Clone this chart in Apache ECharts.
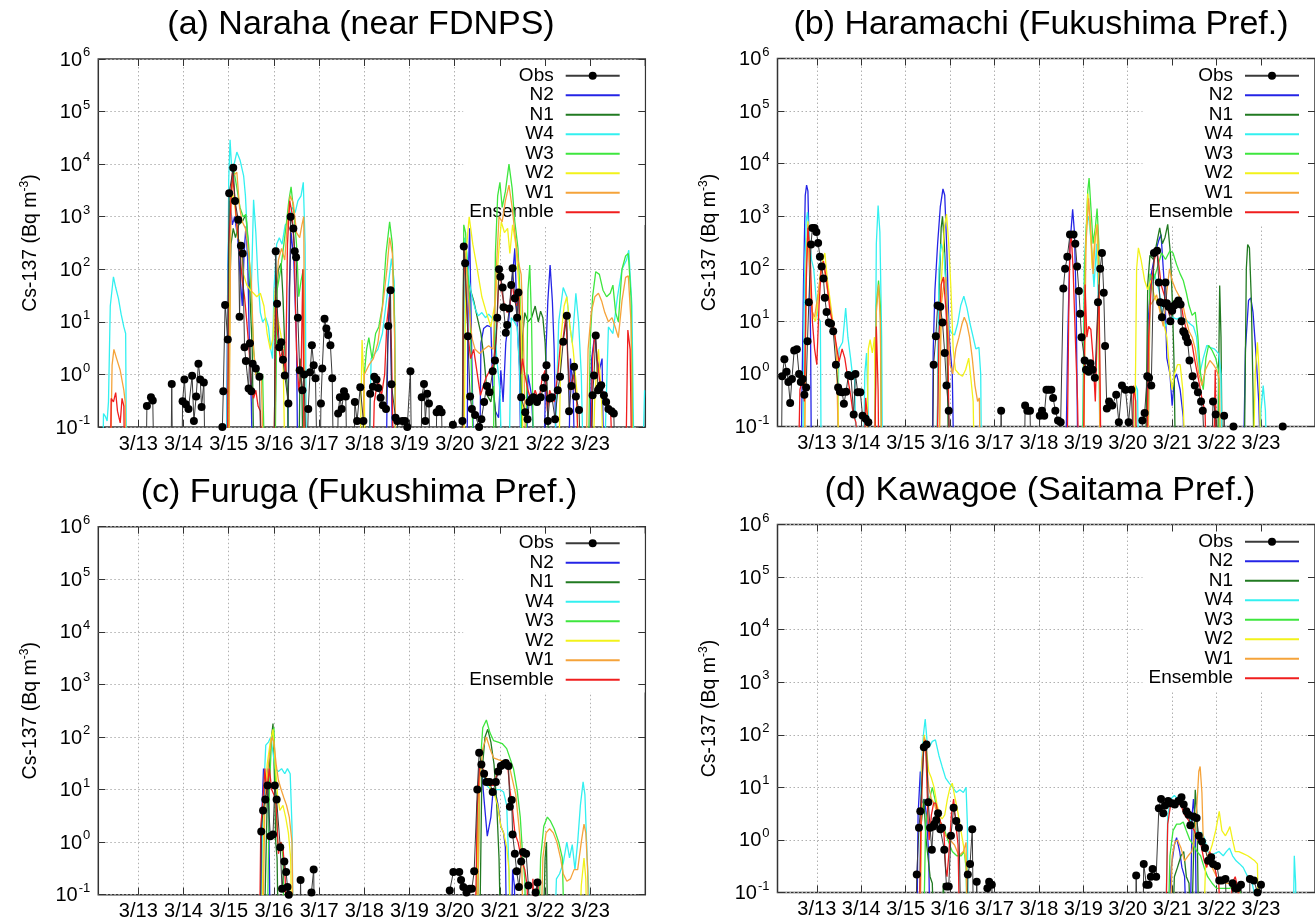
<!DOCTYPE html>
<html><head><meta charset="utf-8">
<script src="https://cdn.jsdelivr.net/npm/echarts@6/dist/echarts.min.js"></script>
<style>html,body{margin:0;padding:0;background:#fff}#c{width:1315px;height:923px}</style>
</head><body><div id="c"></div>
<script>
// ---------- tick labels / names ----------
const xTicks = [13,14,15,16,17,18,19,20,21,22,23];
const xTickLabels = ['3/13','3/14','3/15','3/16','3/17','3/18','3/19','3/20','3/21','3/22','3/23'];
const seriesNames = ['Obs','N2','N1','W4','W3','W2','W1','Ensemble'];
const panelTitles = ['(a) Naraha (near FDNPS)','(b) Haramachi (Fukushima Pref.)','(c) Furuga (Fukushima Pref.)','(d) Kawagoe (Saitama Pref.)'];

// ---------- (a) Naraha ----------
const a_obs = [[13.17,0.01],[13.19,0.25],[13.28,0.37],[13.32,0.32],[13.35,0.01],[13.72,0.01],[13.74,0.66],[13.76,0.01],
[13.96,0.01],[13.98,0.31],[14.02,0.8],[14.05,0.27],[14.11,0.22],[14.19,0.94],[14.23,0.13],[14.28,0.38],[14.33,1.6],[14.37,0.8],[14.40,0.24],[14.45,0.7],[14.48,0.01],
[14.86,0.1],[14.88,0.48],[14.92,21],[14.98,4.6],[15.01,2800],[15.10,8500],[15.14,2000],[15.21,880],[15.24,12.5],[15.27,280],[15.31,200],[15.35,3.3],[15.38,1.8],[15.44,0.54],[15.47,3.9],[15.5,0.48],[15.53,1.6],[15.6,1.3],[15.68,0.9],[15.72,0.01],
[16.0,0.01],[16.04,220],[16.07,22],[16.12,3.3],[16.16,4.1],[16.2,1.9],[16.24,0.95],[16.32,0.28],[16.37,1000],[16.43,600],[16.46,220],[16.49,170],[16.53,12],[16.57,1.2],[16.63,0.5],[16.67,1.0],[16.72,0.01],
[16.74,0.01],[16.76,0.22],[16.8,1.1],[16.84,3.6],[16.88,1.5],[16.92,0.85],[16.96,0.01],
[17.02,0.01],[17.04,0.28],[17.07,1.3],[17.12,11.5],[17.16,7.5],[17.2,5.6],[17.25,3.6],[17.29,0.85],[17.32,0.01],
[17.40,0.01],[17.42,0.18],[17.46,0.37],[17.5,0.22],[17.55,0.48],[17.59,0.38],[17.62,0.01],
[17.77,0.01],[17.79,0.3],[17.84,0.13],[17.91,0.57],[17.98,0.13],[18.0,0.01],
[18.11,0.01],[18.13,0.43],[18.19,0.58],[18.22,0.9],[18.27,0.8],[18.31,0.55],[18.36,0.36],[18.41,0.26],[18.48,0.22],[18.53,8.3],[18.58,40],[18.6,0.65],[18.69,0.15],[18.73,0.13],[18.8,0.01],
[18.82,0.01],[18.84,0.13],[18.9,0.13],[18.95,0.1],[19.02,1.15],[19.05,0.01],
[19.25,0.01],[19.27,0.37],[19.32,0.66],[19.35,0.13],[19.39,0.43],[19.43,0.28],[19.46,0.01],
[19.58,0.01],[19.6,0.19],[19.66,0.22],[19.71,0.19],[19.74,0.01],
[19.94,0.01],[19.96,0.11],[19.98,0.01],[20.15,0.01],[20.17,0.13],[20.2,270],[20.23,130],[20.29,5.3],[20.34,0.38],[20.38,0.22],[20.45,0.17],[20.54,0.1],[20.59,0.14],[20.65,0.3],[20.71,0.6],[20.77,0.46],[20.84,1.15],[20.89,1.85],[20.94,12],[20.98,100],[21.01,72],[21.06,45],[21.08,19],[21.13,6.2],[21.16,8.7],[21.21,18],[21.25,50],[21.28,105],[21.33,28],[21.38,12],[21.41,36],[21.47,0.37],[21.56,0.19],[21.61,0.14],[21.65,0.3],[21.7,0.34],[21.74,0.37],[21.82,0.3],[21.9,0.37],[21.96,0.55],[22.0,0.87],[22.03,1.5],[22.06,0.13],[22.1,0.35],[22.15,0.37],[22.22,0.14],[22.28,0.5],[22.33,0.9],[22.4,4.2],[22.48,13],[22.53,0.2],[22.58,0.6],[22.64,1.4],[22.68,0.38],[22.75,0.21],[22.8,0.01],
[23.02,0.01],[23.05,0.4],[23.08,0.95],[23.12,5.5],[23.17,0.5],[23.2,0.55],[23.24,0.62],[23.3,0.4],[23.35,0.3],[23.4,0.22],[23.47,0.2],[23.52,0.18],[23.55,0.01]];
const a_n2 = [[14.95,0.01],[14.98,120],[15.03,2000],[15.08,700],[15.13,1000],[15.2,400],[15.26,60],[15.3,20],[15.34,200],[15.38,650],[15.42,150],[15.46,3],[15.5,0.3],[15.53,0.01],
[16.3,0.01],[16.34,40],[16.38,500],[16.44,150],[16.5,4],[16.53,0.01],
[18.48,0.01],[18.52,4],[18.56,35],[18.6,1],[18.63,0.01],
[20.27,0.01],[20.3,80],[20.33,600],[20.37,5],[20.4,0.2],[20.43,0.01],[20.55,0.01],[20.58,4],[20.64,7.5],[20.72,8.5],[20.8,8],[20.84,0.6],[20.9,0.2],[20.97,0.15],[21.02,1.2],[21.07,0.3],[21.13,4],[21.2,12],[21.27,60],[21.33,250],[21.38,10],[21.43,1.5],[21.47,0.01],
[21.58,0.01],[21.62,1],[21.7,0.4],[21.78,0.01],[21.97,0.01],[22.02,3],[22.06,25],[22.11,120],[22.16,25],[22.2,3],[22.25,0.01],[22.52,0.01],[22.56,2],[22.62,0.5],[22.66,0.01],[22.97,0.01],[23.03,2],[23.1,6],[23.15,2],[23.2,1.2],[23.26,2],[23.3,0.01]];
const a_n1 = [[14.96,0.01],[15.0,5],[15.05,300],[15.1,600],[15.15,400],[15.22,700],[15.3,800],[15.38,1100],[15.43,300],[15.48,20],[15.52,3],[15.56,0.01],
[16.02,0.01],[16.05,30],[16.1,100],[16.16,130],[16.2,30],[16.25,2],[16.3,0.5],[16.33,0.01],[16.55,0.01],[16.58,2],[16.62,0.5],[16.65,0.01],
[20.16,0.01],[20.2,250],[20.25,150],[20.3,60],[20.35,40],[20.42,25],[20.5,12],[20.58,6],[20.65,2],[20.72,0.4],[20.8,0.3],[20.85,0.6],[20.9,0.2],[20.95,0.01],
[21.45,0.01],[21.5,5],[21.55,15],[21.62,10],[21.7,12],[21.78,20],[21.85,10],[21.9,16],[21.95,12],[22.0,4],[22.05,0.3],[22.1,0.01]];
const a_w4 = [[12.21,0.01],[12.23,0.18],[12.27,0.16],[12.31,0.13],[12.34,0.3],[12.38,20],[12.45,72],[12.5,45],[12.56,28],[12.62,14],[12.68,8],[12.72,6],[12.74,0.01],
[14.95,0.01],[15.0,5000],[15.03,29000],[15.07,7000],[15.12,10000],[15.18,17000],[15.25,12000],[15.33,6000],[15.37,2500],[15.41,500],[15.45,100],[15.5,40],[15.55,2100],[15.6,500],[15.65,60],[15.7,15],[15.75,10],[15.82,12],[15.88,8],[15.93,3],[15.97,2],[16.0,40],[16.06,300],[16.12,400],[16.18,300],[16.25,700],[16.32,800],[16.4,1500],[16.47,1200],[16.53,2000],[16.6,2500],[16.65,4500],[16.69,300],[16.72,0.01],
[18.1,0.01],[18.15,2],[18.3,3],[18.4,6],[18.5,30],[18.6,160],[18.66,60],[18.7,0.01],
[20.18,0.01],[20.22,400],[20.27,200],[20.32,60],[20.38,30],[20.45,18],[20.52,13],[20.6,15],[20.68,12],[20.75,14],[20.82,12],[20.88,10],[20.93,2],[21.0,0.5],[21.05,0.01],[21.2,0.01],[21.25,12],[21.32,10],[21.38,8],[21.44,1],[21.48,0.01],
[22.2,0.01],[22.3,10],[22.4,45],[22.48,30],[22.55,8],[22.6,4],[22.68,35],[22.74,10],[22.8,1],[22.85,0.01],[23.3,0.01],[23.4,8],[23.5,6],[23.6,30],[23.7,100],[23.8,150],[23.85,230],[23.92,20],[23.97,0.01],[24.15,0.01],[24.2,0.5]];
const a_w3 = [[15.0,0.01],[15.03,2000],[15.07,5000],[15.11,8000],[15.17,4000],[15.25,1500],[15.32,1000],[15.38,1100],[15.44,300],[15.5,30],[15.55,3],[15.6,1.0],[15.65,1.2],[15.7,0.9],[15.75,1.0],[15.8,0.01],
[16.02,0.01],[16.07,40],[16.15,100],[16.22,300],[16.28,800],[16.33,2000],[16.38,3700],[16.45,1000],[16.5,300],[16.55,30],[16.6,60],[16.65,100],[16.68,0.01],
[17.95,0.01],[18.0,1],[18.05,3],[18.1,5],[18.17,2],[18.25,6],[18.32,8],[18.4,20],[18.48,200],[18.56,800],[18.62,300],[18.67,10],[18.7,0.01],
[20.17,0.01],[20.2,700],[20.24,500],[20.28,100],[20.33,30],[20.38,0.5],[20.42,0.01],
[20.85,0.01],[20.9,200],[20.95,2500],[21.0,4500],[21.05,1500],[21.12,3000],[21.2,10000],[21.27,3500],[21.33,800],[21.4,250],[21.46,15],[21.5,0.01],[21.57,0.01],[21.62,40],[21.66,120],[21.7,10],[21.75,0.01],
[22.95,0.01],[23.0,5],[23.05,30],[23.12,90],[23.2,80],[23.28,40],[23.36,30],[23.44,35],[23.5,50],[23.56,15],[23.62,10],[23.7,100],[23.78,180],[23.84,200],[23.9,30],[23.95,0.01]];
const a_w2 = [[15.0,0.01],[15.04,1500],[15.08,3000],[15.14,1500],[15.2,400],[15.27,300],[15.33,80],[15.4,50],[15.48,40],[15.55,35],[15.62,30],[15.7,35],[15.78,20],[15.85,6],[15.92,3],[15.98,5],[16.03,45],[16.08,12],[16.15,6],[16.2,3],[16.25,0.01],
[17.9,0.01],[17.95,4.5],[18.0,0.5],[18.02,0.01],
[20.2,0.01],[20.25,200],[20.32,1000],[20.4,300],[20.5,100],[20.6,30],[20.7,15],[20.8,8],[20.9,25],[20.97,200],[21.03,800],[21.1,500],[21.17,600],[21.22,200],[21.28,700],[21.35,300],[21.42,50],[21.48,5],[21.52,0.01],
[22.3,0.01],[22.35,5],[22.42,20],[22.48,30],[22.55,8],[22.62,3],[22.7,0.5],[22.75,0.01],[23.05,0.01],[23.1,0.4],[23.18,3],[23.25,0.3],[23.3,0.01]];
const a_w1 = [[12.38,0.01],[12.42,1.5],[12.46,3],[12.52,2],[12.6,1.2],[12.68,0.5],[12.71,0.3],[12.73,0.01],
[15.0,0.01],[15.05,2000],[15.1,6000],[15.18,7000],[15.24,1500],[15.3,800],[15.37,600],[15.44,200],[15.5,60],[15.55,3],[15.6,1],[15.66,0.8],[15.72,0.9],[15.78,0.01],
[16.0,0.01],[16.04,30],[16.1,150],[16.17,250],[16.24,150],[16.3,800],[16.36,2500],[16.43,1800],[16.5,500],[16.57,400],[16.62,700],[16.66,1000],[16.69,0.01],
[17.95,0.01],[18.0,1],[18.1,1.5],[18.2,2],[18.3,4],[18.42,25],[18.5,100],[18.56,400],[18.62,200],[18.67,5],[18.7,0.01],
[20.17,0.01],[20.2,300],[20.25,150],[20.3,30],[20.38,5],[20.45,3],[20.55,2.5],[20.65,3],[20.75,3.5],[20.85,3],[20.92,100],[20.98,1000],[21.05,800],[21.12,2000],[21.2,4000],[21.27,1500],[21.33,500],[21.4,150],[21.47,80],[21.52,5],[21.58,0.01],
[22.9,0.01],[22.95,3],[23.02,15],[23.1,30],[23.18,35],[23.25,25],[23.32,15],[23.4,10],[23.48,12],[23.55,8],[23.62,5],[23.7,25],[23.78,70],[23.84,75],[23.9,10],[23.94,0.01]];
const a_ens = [[12.38,0.01],[12.4,0.35],[12.45,0.3],[12.5,0.45],[12.54,0.2],[12.6,0.12],[12.64,0.35],[12.68,0.25],[12.7,0.01],
[14.97,0.01],[15.0,300],[15.05,2000],[15.08,7000],[15.13,2500],[15.18,700],[15.25,200],[15.3,60],[15.35,30],[15.4,10],[15.45,3],[15.5,0.6],[15.55,0.35],[15.6,0.5],[15.65,0.25],[15.7,0.2],[15.74,0.01],
[16.0,0.01],[16.04,30],[16.08,6],[16.14,2],[16.2,3],[16.26,1],[16.3,300],[16.35,2000],[16.4,1200],[16.45,250],[16.5,3],[16.55,0.5],[16.6,1],[16.64,100],[16.67,0.01],
[18.18,0.01],[18.22,0.3],[18.3,0.8],[18.38,0.4],[18.45,1],[18.5,10],[18.56,30],[18.6,3],[18.65,0.01],
[20.17,0.01],[20.2,250],[20.24,60],[20.3,5],[20.35,2],[20.42,3],[20.5,1],[20.57,0.4],[20.63,0.6],[20.7,0.9],[20.78,1.2],[20.85,1.5],[20.92,5],[20.97,60],[21.0,100],[21.05,35],[21.1,20],[21.16,15],[21.22,20],[21.27,60],[21.32,25],[21.38,20],[21.42,40],[21.46,1],[21.5,2],[21.55,1],[21.62,0.5],[21.7,0.3],[21.78,0.5],[21.86,0.3],[21.93,0.8],[22.0,1.2],[22.05,0.2],[22.1,0.5],[22.2,0.3],[22.28,1],[22.34,4],[22.4,5],[22.46,13],[22.5,2],[22.55,0.5],[22.62,1],[22.7,0.3],[22.75,0.01],
[23.0,0.01],[23.05,2],[23.1,6],[23.15,2],[23.22,0.6],[23.3,0.4],[23.38,0.3],[23.45,0.2],[23.5,0.01],[23.78,0.01],[23.83,7],[23.88,3],[23.92,0.01]];

// ---------- (b) Haramachi ----------
const b_obs = [[12.2,0.01],[12.22,0.9],[12.27,1.9],[12.32,1.1],[12.36,0.7],[12.4,0.28],[12.44,0.8],[12.49,2.8],[12.55,2.95],[12.6,1.0],[12.64,0.7],[12.68,0.8],[12.72,0.4],[12.76,0.55],[12.79,4.2],[12.82,23],[12.87,290],[12.9,600],[12.95,600],[12.99,500],[13.03,310],[13.07,170],[13.11,110],[13.15,65],[13.18,28],[13.22,15],[13.27,9.5],[13.32,9],[13.37,6.5],[13.43,1.5],[13.48,0.55],[13.52,0.46],[13.57,0.45],[13.61,0.27],[13.66,0.46],[13.71,0.95],[13.77,0.9],[13.83,0.17],[13.87,1.0],[13.92,0.45],[13.98,0.45],[14.03,0.16],[14.1,0.14],[14.16,0.12],[14.2,0.01],
[15.6,0.01],[15.63,1.5],[15.68,5.2],[15.72,20],[15.78,19],[15.83,9.5],[15.88,2.5],[15.92,0.6],[15.97,0.2],[16.0,0.01],
[17.13,0.01],[17.15,0.2],[17.17,0.01],[17.67,0.01],[17.69,0.25],[17.74,0.2],[17.8,0.2],[17.83,0.01],
[17.98,0.01],[18.02,0.16],[18.07,0.2],[18.12,0.16],[18.17,0.5],[18.22,0.5],[18.28,0.5],[18.32,0.35],[18.37,0.2],[18.43,0.13],[18.49,0.12],[18.55,42],[18.59,100],[18.64,170],[18.7,450],[18.78,450],[18.82,300],[18.86,110],[18.9,38],[18.93,14],[18.96,5],[19.03,1.8],[19.06,1.2],[19.12,1.1],[19.16,1.6],[19.21,1.2],[19.26,0.85],[19.33,23],[19.38,100],[19.42,200],[19.46,35],[19.49,3.4],[19.53,0.22],[19.58,0.3],[19.65,0.25],[19.74,0.4],[19.8,0.12],[19.87,0.6],[19.95,0.5],[20.02,0.12],[20.08,0.5],[20.15,0.01],
[20.3,0.01],[20.33,0.13],[20.38,0.18],[20.44,0.9],[20.48,0.85],[20.53,0.6],[20.59,200],[20.66,220],[20.7,55],[20.73,23],[20.77,12],[20.82,22],[20.85,55],[20.88,22],[20.92,19],[20.96,10],[21.0,16],[21.05,20],[21.1,22],[21.14,25],[21.19,21],[21.21,10],[21.25,6.5],[21.28,6],[21.31,5],[21.35,4],[21.39,1.8],[21.46,0.9],[21.51,0.6],[21.58,0.45],[21.65,0.3],[21.69,0.2],[21.75,0.01],
[21.88,0.01],[21.92,0.3],[21.98,0.17],[22.01,0.01],[22.15,0.01],[22.17,0.16],[22.2,0.01],[22.36,0.01],[22.38,0.1],[22.4,0.01],[23.47,0.01],[23.49,0.1],[23.51,0.01]];
const b_n2 = [[12.64,0.01],[12.7,50],[12.74,2500],[12.77,3900],[12.8,3000],[12.83,200],[12.86,5],[12.88,0.01],
[15.6,0.01],[15.62,2.7],[15.66,40],[15.72,300],[15.78,1500],[15.84,3300],[15.88,2500],[15.93,200],[15.98,5],[16.05,1],[16.09,0.01],
[18.6,0.01],[18.65,5],[18.7,300],[18.76,1350],[18.8,500],[18.84,20],[18.88,0.01],
[20.42,0.01],[20.46,10],[20.53,80],[20.62,200],[20.7,350],[20.75,450],[20.8,100],[20.84,30],[20.88,2],[20.95,1],[21.0,0.25],[21.05,0.8],[21.1,1],[21.18,0.5],[21.25,0.15],[21.28,0.01],
[22.6,0.01],[22.65,3],[22.72,25],[22.77,28],[22.82,15],[22.88,3],[22.95,0.3],[23.0,0.01]];
const b_n1 = [[15.7,0.01],[15.75,30],[15.8,600],[15.83,1000],[15.87,300],[15.92,30],[15.97,0.01],
[20.4,0.01],[20.45,50],[20.5,180],[20.58,150],[20.65,300],[20.72,600],[20.78,300],[20.84,400],[20.9,700],[20.96,200],[21.0,30],[21.04,2],[21.08,0.01],
[22.02,0.01],[22.07,48],[22.1,5],[22.13,0.01],
[22.62,0.01],[22.67,100],[22.7,290],[22.74,250],[22.78,30],[22.82,0.5],[22.85,0.01]];
const b_w4 = [[12.68,0.01],[12.72,50],[12.76,800],[12.79,1200],[12.83,400],[12.88,150],[12.93,100],[12.98,30],[13.03,12],[13.08,10],[13.1,0.01],
[13.45,0.01],[13.5,3],[13.58,4],[13.65,18],[13.7,5],[13.76,2],[13.8,1],[13.85,0.8],[13.9,0.01],
[14.05,0.01],[14.08,1],[14.12,2.5],[14.15,0.3],[14.2,0.01],[14.3,0.01],[14.34,300],[14.38,1600],[14.42,500],[14.46,5],[14.48,0.01],
[15.7,0.01],[15.75,100],[15.8,300],[15.86,200],[15.92,30],[15.97,8],[16.03,6],[16.1,5.5],[16.17,9],[16.24,20],[16.31,30],[16.38,18],[16.45,9],[16.52,5],[16.58,3],[16.65,3.2],[16.69,1],[16.71,0.01],
[18.98,0.01],[19.02,100],[19.07,700],[19.12,1000],[19.18,300],[19.24,45],[19.3,300],[19.34,20],[19.38,0.01],
[20.15,0.01],[20.18,0.6],[20.22,0.5],[20.25,0.01],
[20.45,0.01],[20.5,30],[20.6,80],[20.7,40],[20.78,15],[20.85,8],[20.92,10],[21.0,12],[21.1,11],[21.2,12],[21.3,11],[21.4,9],[21.48,8],[21.55,5],[21.62,1],[21.7,2],[21.78,3.5],[21.85,3.2],[21.95,3],[22.05,2.4],[22.1,1],[22.12,0.01],
[22.95,0.01],[23.0,0.2],[23.05,0.6],[23.1,0.2],[23.13,0.01]];
const b_w3 = [[14.3,0.01],[14.34,20],[14.39,60],[14.43,20],[14.46,0.01],
[18.98,0.01],[19.03,100],[19.1,3000],[19.13,5300],[19.17,1500],[19.22,300],[19.27,600],[19.31,1400],[19.35,300],[19.38,0.01],
[20.45,0.01],[20.5,80],[20.58,60],[20.66,100],[20.76,200],[20.85,150],[20.95,220],[21.02,200],[21.1,120],[21.18,80],[21.25,60],[21.32,35],[21.38,20],[21.45,13],[21.52,15],[21.58,5],[21.64,1],[21.7,0.5],[21.76,2],[21.82,3.5],[21.9,2.8],[21.98,2],[22.04,1.2],[22.08,0.01]];
const b_w2 = [[12.72,0.01],[12.76,100],[12.8,800],[12.84,100],[12.88,20],[12.92,12],[12.97,10],[13.02,20],[13.08,80],[13.14,150],[13.18,200],[13.24,60],[13.3,25],[13.36,10],[13.42,4],[13.47,1.5],[13.5,0.01],
[14.12,0.01],[14.16,3],[14.2,4.5],[14.25,2.5],[14.3,5],[14.33,0.01],
[15.75,0.01],[15.8,50],[15.87,600],[15.92,1100],[15.97,300],[16.02,40],[16.07,3],[16.12,1.2],[16.2,1],[16.28,0.9],[16.35,1.2],[16.42,2],[16.47,0.8],[16.52,0.3],[16.55,0.01],
[19.0,0.01],[19.05,200],[19.1,2700],[19.15,800],[19.2,100],[19.25,300],[19.3,700],[19.34,100],[19.38,0.01],
[20.15,0.01],[20.2,100],[20.24,250],[20.3,150],[20.38,60],[20.45,40],[20.52,60],[20.6,30],[20.7,20],[20.8,10],[20.88,5],[20.95,1],[21.0,0.5],[21.05,1],[21.12,1.5],[21.18,1.5],[21.24,0.5],[21.3,0.01],
[22.82,0.01],[22.87,1],[22.92,4],[22.96,1],[23.0,0.01]];
const b_w1 = [[12.72,0.01],[12.76,100],[12.8,700],[12.85,60],[12.9,15],[12.95,12],[13.02,30],[13.1,100],[13.15,130],[13.22,50],[13.3,20],[13.37,8],[13.44,3],[13.5,0.01],
[14.3,0.01],[14.34,15],[14.39,50],[14.43,10],[14.46,0.01],
[15.75,0.01],[15.8,20],[15.86,50],[15.9,70],[15.95,10],[16.0,1.5],[16.06,1],[16.13,3],[16.2,5],[16.27,9],[16.32,12],[16.38,9],[16.44,5],[16.5,2],[16.56,0.6],[16.62,0.3],[16.66,0.35],[16.68,0.01],
[19.0,0.01],[19.06,300],[19.12,2200],[19.17,500],[19.22,80],[19.27,400],[19.32,700],[19.35,100],[19.38,0.01],
[20.45,0.01],[20.5,20],[20.58,25],[20.65,32],[20.72,16],[20.8,8],[20.87,30],[20.94,100],[21.0,60],[21.08,40],[21.16,30],[21.23,23],[21.3,12],[21.38,6.5],[21.45,5],[21.52,3],[21.6,1],[21.67,0.6],[21.75,1.2],[21.85,1.8],[21.93,1.5],[22.0,1.2],[22.06,0.8],[22.1,0.01]];
const b_ens = [[12.58,0.01],[12.62,0.5],[12.68,0.8],[12.72,0.3],[12.76,50],[12.8,600],[12.85,200],[12.9,10],[12.95,3],[13.0,1.5],[13.05,20],[13.1,100],[13.15,140],[13.22,60],[13.3,15],[13.37,8.5],[13.43,4],[13.5,1.7],[13.57,3],[13.63,2],[13.7,0.8],[13.76,0.4],[13.82,0.17],[13.88,0.12],[13.95,0.01],[14.05,0.01],[14.1,0.35],[14.15,0.12],[14.18,0.01],[14.3,0.01],[14.34,8],[14.38,0.5],[14.4,0.01],
[15.7,0.01],[15.75,5],[15.8,50],[15.85,70],[15.9,20],[15.95,4],[15.99,0.01],
[18.63,0.01],[18.67,10],[18.7,300],[18.73,400],[18.77,100],[18.82,5],[18.87,0.3],[18.9,0.01],[19.0,0.01],[19.04,50],[19.08,5],[19.12,8],[19.17,7],[19.22,2],[19.27,0.3],[19.31,5],[19.35,50],[19.38,0.5],[19.4,0.01],
[20.1,0.01],[20.13,0.6],[20.18,0.3],[20.2,0.01],
[20.42,0.01],[20.47,5],[20.53,50],[20.6,150],[20.66,230],[20.7,120],[20.75,50],[20.82,32],[20.88,20],[20.94,13],[21.0,15],[21.08,18],[21.15,20],[21.2,22],[21.25,12],[21.3,8],[21.38,5],[21.45,3.6],[21.5,2],[21.56,1.1],[21.62,0.6],[21.68,0.3],[21.74,0.2],[21.78,0.01],[21.93,0.01],[21.97,1.2],[22.0,0.01]];

// ---------- (c) Furuga ----------
const c_obs = [[15.7,0.01],[15.72,1.6],[15.76,4.0],[15.81,6.5],[15.86,12],[15.92,1.3],[15.98,1.4],[16.02,12],[16.06,6.5],[16.14,0.8],[16.18,0.13],[16.23,0.43],[16.27,0.27],[16.3,0.14],[16.33,0.1],[16.36,0.01],
[16.57,0.01],[16.59,0.19],[16.61,0.01],[16.8,0.01],[16.83,0.11],[16.88,0.3],[16.9,0.01],
[19.87,0.01],[19.89,0.12],[19.97,0.27],[20.1,0.27],[20.14,0.19],[20.19,0.14],[20.26,0.11],[20.33,0.13],[20.38,0.13],[20.43,0.28],[20.5,10],[20.54,50],[20.59,30],[20.65,20],[20.7,14],[20.77,14],[20.84,9],[20.91,14],[20.96,22],[21.02,28],[21.08,30],[21.13,32],[21.19,28],[21.22,4.7],[21.26,6.3],[21.28,1.4],[21.33,0.6],[21.37,0.28],[21.42,0.14],[21.47,0.43],[21.51,0.65],[21.58,0.6],[21.63,0.15],[21.7,0.01],[21.77,0.01],[21.79,0.11],[21.83,0.17],[21.86,0.01]];
const c_n2 = [[15.7,0.01],[15.74,5],[15.77,25],[15.8,5],[15.83,20],[15.86,25],[15.89,2],[15.92,0.01],
[20.47,0.01],[20.5,5],[20.55,30],[20.6,20],[20.66,5],[20.72,1.3],[20.76,1.2],[20.8,3],[20.85,10],[20.9,9],[20.96,5],[21.02,2],[21.08,1.5],[21.12,0.8],[21.15,0.01],[21.25,0.01],[21.28,0.3],[21.32,0.15],[21.35,0.01]];
const c_n1 = [[15.78,0.01],[15.85,5],[15.92,60],[15.98,180],[16.01,20],[16.04,1],[16.07,0.5],[16.1,0.01],
[20.55,0.01],[20.6,20],[20.67,100],[20.73,140],[20.8,80],[20.87,30],[20.93,5],[20.98,0.5],[21.02,0.01],
[21.95,0.01],[22.0,0.5],[22.03,1],[22.06,0.01]];
const c_w4 = [[15.72,0.01],[15.76,5],[15.82,70],[15.88,80],[15.93,100],[15.98,50],[16.03,25],[16.1,22],[16.17,25],[16.24,20],[16.3,25],[16.36,20],[16.4,2],[16.43,0.01],
[20.47,0.01],[20.52,10],[20.57,30],[20.63,20],[20.7,12],[20.8,10],[20.9,10],[21.0,10],[21.08,9],[21.15,5],[21.2,0.3],[21.23,0.01],
[22.2,0.01],[22.25,0.2],[22.32,0.25],[22.4,0.4],[22.48,1],[22.54,0.5],[22.6,0.9],[22.66,0.3],[22.72,1],[22.78,5],[22.84,14],[22.88,8],[22.93,0.5],[22.97,0.1],[23.0,0.01]];
const c_w3 = [[15.85,0.01],[15.9,10],[15.95,100],[16.0,150],[16.04,10],[16.08,1],[16.12,0.7],[16.16,1],[16.2,0.5],[16.23,0.01],
[20.5,0.01],[20.55,20],[20.62,150],[20.7,210],[20.78,120],[20.86,85],[20.96,80],[21.05,75],[21.15,60],[21.22,40],[21.3,25],[21.38,10],[21.45,3],[21.5,0.6],[21.55,0.2],[21.58,0.01],
[21.85,0.01],[21.9,0.5],[21.97,2],[22.05,3],[22.12,2.5],[22.2,1.8],[22.3,1],[22.38,0.5],[22.43,0.01]];
const c_w2 = [[15.72,0.01],[15.78,3],[15.85,30],[15.92,80],[15.98,140],[16.03,30],[16.08,8],[16.13,4],[16.2,5],[16.26,3],[16.32,1.5],[16.37,0.5],[16.4,0.01],
[20.47,0.01],[20.52,10],[20.57,30],[20.65,20],[20.72,15],[20.8,10],[20.88,8],[20.95,5],[21.02,2],[21.08,1.5],[21.15,0.8],[21.2,0.3],[21.25,0.01],
[22.75,0.01],[22.8,0.15],[22.86,0.5],[22.9,0.2],[22.93,0.01]];
const c_w1 = [[15.75,0.01],[15.8,5],[15.88,30],[15.95,100],[16.0,80],[16.05,30],[16.1,15],[16.16,10],[16.22,7],[16.28,5],[16.34,3],[16.4,1],[16.43,0.01],
[20.5,0.01],[20.55,15],[20.62,60],[20.7,100],[20.78,60],[20.86,40],[20.96,37],[21.05,35],[21.12,35],[21.2,30],[21.28,15],[21.35,8],[21.42,2],[21.48,0.5],[21.52,0.01],
[21.9,0.01],[21.95,0.5],[22.02,1.5],[22.1,1.8],[22.18,1.5],[22.26,1],[22.34,0.5],[22.4,0.25],[22.48,0.18],[22.56,0.2],[22.64,0.3],[22.72,0.3],[22.8,1],[22.86,2.2],[22.9,1.5],[22.94,0.3],[22.97,0.01]];
const c_ens = [[15.68,0.01],[15.71,2],[15.75,5],[15.8,25],[15.84,8],[15.9,25],[15.95,10],[16.0,8],[16.05,5],[16.1,0.6],[16.15,1],[16.2,0.8],[16.25,0.2],[16.28,0.01],
[20.45,0.01],[20.5,5],[20.55,30],[20.62,25],[20.7,15],[20.78,12],[20.86,12],[20.94,20],[21.02,28],[21.1,32],[21.17,30],[21.22,10],[21.27,5],[21.33,1.5],[21.4,1],[21.47,0.5],[21.55,0.3],[21.6,0.15],[21.65,0.01],[21.7,0.01],[21.73,0.2],[21.77,0.01],[21.8,0.12],[21.84,0.2],[21.88,0.01]];

// ---------- (d) Kawagoe ----------
const d_obs = [[15.23,0.01],[15.25,0.22],[15.3,1.7],[15.33,3.5],[15.41,58],[15.47,65],[15.51,5.2],[15.55,1.7],[15.59,0.65],[15.62,1.8],[15.65,2],[15.69,2.4],[15.73,3.2],[15.78,1.6],[15.82,1.7],[15.87,0.65],[15.92,0.13],[15.97,0.13],[16.02,1.2],[16.08,4.1],[16.14,2.3],[16.2,1.7],[16.25,0.01],
[16.38,0.01],[16.4,0.22],[16.45,0.35],[16.5,1.6],[16.53,0.01],[16.58,0.01],[16.6,0.16],[16.63,0.01],[16.82,0.01],[16.84,0.12],[16.88,0.16],[16.94,0.14],[16.97,0.01],
[20.17,0.01],[20.19,0.21],[20.22,0.01],[20.34,0.01],[20.36,0.35],[20.42,0.14],[20.47,0.14],[20.52,0.2],[20.56,0.28],[20.64,0.2],[20.7,4],[20.75,6],[20.8,3.2],[20.84,4.5],[20.91,5.5],[20.96,5],[21.0,5],[21.06,4.7],[21.14,5.5],[21.21,6.5],[21.26,4.7],[21.32,3.5],[21.37,3],[21.41,1.9],[21.48,2.8],[21.55,2.6],[21.6,1.2],[21.67,0.93],[21.74,0.7],[21.81,0.4],[21.88,0.47],[21.92,0.35],[22.01,0.32],[22.06,0.17],[22.12,0.17],[22.2,0.18],[22.25,0.01],[22.34,0.01],[22.36,0.15],[22.42,0.12],[22.47,0.12],[22.55,0.14],[22.6,0.01],[22.73,0.01],[22.75,0.18],[22.84,0.17],[22.92,0.1],[23.0,0.14],[23.03,0.01]];
const d_n2 = [[15.25,0.01],[15.28,3],[15.33,20],[15.37,5],[15.42,6],[15.47,3],[15.52,0.5],[15.55,0.01],
[20.9,0.01],[20.98,0.3],[21.05,0.8],[21.1,1.1],[21.17,0.6],[21.22,0.3],[21.28,0.2],[21.33,0.01],[21.4,0.01],[21.45,3],[21.48,6],[21.52,2],[21.55,0.01]];
const d_n1 = [[15.3,0.01],[15.35,2],[15.41,6],[15.46,1],[15.5,0.5],[15.55,0.2],[15.6,0.15],[15.64,0.01],[15.8,0.01],[15.85,0.15],[15.9,0.01],
[21.0,0.01],[21.05,0.2],[21.12,0.3],[21.2,0.5],[21.26,0.6],[21.32,0.2],[21.38,0.15],[21.43,0.01],[21.47,0.01],[21.52,9],[21.56,3],[21.6,0.01]];
const d_w4 = [[15.3,0.01],[15.35,20],[15.4,100],[15.44,200],[15.48,80],[15.54,60],[15.6,75],[15.67,80],[15.75,40],[15.82,25],[15.9,15],[15.98,12],[16.06,10],[16.14,8],[16.22,9],[16.3,8],[16.36,10],[16.39,2],[16.41,0.01],
[20.85,0.01],[20.9,3],[20.97,6],[21.05,7],[21.12,6],[21.2,5.5],[21.28,4],[21.36,3],[21.44,2],[21.52,1.5],[21.6,1.3],[21.67,1.4],[21.74,1],[21.8,0.6],[21.88,0.5],[21.95,0.55],[22.05,0.6],[22.15,0.5],[22.22,0.6],[22.29,0.7],[22.36,0.5],[22.44,0.4],[22.52,0.35],[22.6,0.3],[22.7,0.2],[22.8,0.15],[22.85,0.1],[22.9,0.01],
[23.72,0.01],[23.75,0.5],[23.78,0.15],[23.8,0.01]];
const d_w3 = [[15.4,0.01],[15.45,2],[15.52,5],[15.6,10],[15.66,6],[15.72,3],[15.8,2],[15.88,1.5],[15.95,1],[16.05,0.6],[16.15,0.5],[16.25,0.5],[16.32,0.6],[16.36,0.3],[16.39,0.01],
[20.9,0.01],[20.95,0.5],[21.02,1.5],[21.1,2],[21.18,2],[21.25,2.2],[21.32,1.5],[21.4,1],[21.48,0.8],[21.56,0.6],[21.64,0.5],[21.72,0.3],[21.8,0.2],[21.9,0.15],[22.0,0.12],[22.3,0.12],[22.45,0.15],[22.55,0.1],[22.6,0.01]];
const d_w2 = [[15.32,0.01],[15.37,30],[15.42,100],[15.47,50],[15.52,20],[15.58,15],[15.64,10],[15.7,5],[15.76,3],[15.82,2.5],[15.88,3],[15.94,6],[16.0,10],[16.05,12],[16.1,7],[16.16,4],[16.22,2],[16.28,1],[16.34,0.5],[16.38,0.3],[16.4,0.01],
[21.7,0.01],[21.75,0.3],[21.82,0.5],[21.9,0.8],[21.98,1.5],[22.06,3.5],[22.12,1.5],[22.2,1.2],[22.26,1.5],[22.3,1.8],[22.36,1],[22.42,0.6],[22.5,0.6],[22.6,0.55],[22.7,0.5],[22.78,0.45],[22.86,0.4],[22.92,0.35],[22.95,0.01]];
const d_w1 = [[15.32,0.01],[15.37,30],[15.42,90],[15.47,30],[15.52,10],[15.58,6],[15.64,5],[15.72,3],[15.8,2],[15.9,1.2],[16.0,1],[16.1,0.8],[16.2,0.5],[16.3,0.6],[16.36,0.9],[16.39,0.01],
[20.95,0.01],[21.0,0.5],[21.06,0.9],[21.12,1],[21.2,0.7],[21.28,0.4],[21.36,0.5],[21.44,0.6],[21.5,1],[21.56,5],[21.6,20],[21.63,25],[21.67,8],[21.7,1],[21.76,0.6],[21.83,0.4],[21.9,0.3],[22.0,0.2],[22.2,0.15],[22.4,0.15],[22.5,0.12],[22.55,0.01]];
const d_ens = [[15.3,0.01],[15.35,5],[15.41,60],[15.45,80],[15.5,3],[15.53,1],[15.58,3],[15.63,5],[15.68,5],[15.74,3],[15.8,2],[15.86,1.5],[15.9,0.3],[15.93,0.2],[15.97,0.5],[16.03,3],[16.08,6],[16.13,2],[16.18,0.8],[16.22,0.01],
[20.85,0.01],[20.9,2],[20.97,5],[21.05,5.5],[21.12,5],[21.2,4.5],[21.28,3],[21.35,2.5],[21.42,2],[21.5,1.5],[21.58,1],[21.65,0.8],[21.72,0.4],[21.78,0.3],[21.84,0.6],[21.9,0.5],[21.96,0.3],[22.0,0.2],[22.05,0.15],[22.1,0.01],[22.3,0.01],[22.35,0.15],[22.42,0.2],[22.48,0.12],[22.55,0.01]];

// ---------- layout / styling ----------
const FONT = '"Liberation Sans", Arial, Helvetica, sans-serif';
const colors = ['#000000','#2424e6','#217a21','#33f0f0','#3ee63e','#f2f21a','#f5a33a','#f01e1e'];
const XMIN = 12.115, XMAX = 24.216;
const panelData = [
  [a_obs,a_n2,a_n1,a_w4,a_w3,a_w2,a_w1,a_ens],
  [b_obs,b_n2,b_n1,b_w4,b_w3,b_w2,b_w1,b_ens],
  [c_obs,c_n2,c_n1,c_w4,c_w3,c_w2,c_w1,c_ens],
  [d_obs,d_n2,d_n1,d_w4,d_w3,d_w2,d_w1,d_ens]
];
const layout = [
  {left:98.3, top:59,    titleX:361,  titleY:25,  ylabX:30,  legRight:670.3, legPadR:24, legTop:66},
  {left:777.5,top:58.5,  titleX:1041, titleY:25,  ylabX:709, legRight:1,     legPadR:14, legTop:66},
  {left:98.3, top:526.7, titleX:359,  titleY:493, ylabX:30,  legRight:670.3, legPadR:24, legTop:533.5},
  {left:777.5,top:524.5, titleX:1040, titleY:491, ylabX:709, legRight:1,     legPadR:14, legTop:532}
];
const GW = 547, GH = 368;

const grids = [], xAxes = [], yAxes = [], series = [], legends = [], graphics = [];
const tickLine = {color:'#333', width:1};
const gridLine = {color:'#b0b0b0', width:1, type:[1.5,2.5]};
layout.forEach((L, i) => {
  grids.push({left:L.left, top:L.top, width:GW, height:GH, show:true, borderColor:'#333', borderWidth:1.5, backgroundColor:'transparent', containLabel:false});
  // bottom axis: labels + vertical grid lines (below legend box)
  xAxes.push({gridIndex:i, type:'value', min:XMIN, max:XMAX, position:'bottom', z:0,
    axisLine:{show:false},
    axisTick:{show:true, inside:true, length:7, lineStyle:tickLine, customValues:xTicks},
    axisLabel:{show:true, customValues:xTicks, margin:7, fontSize:20, fontFamily:FONT, color:'#000',
      formatter: v => xTickLabels[xTicks.indexOf(Math.round(v))] || ''},
    splitLine:{show:true, lineStyle:gridLine}});
  // top mirror axis: ticks only (above legend box)
  xAxes.push({gridIndex:i, type:'value', min:XMIN, max:XMAX, position:'top', z:3,
    axisLine:{show:false}, axisLabel:{show:false},
    axisTick:{show:true, inside:true, length:7, lineStyle:tickLine, customValues:xTicks},
    splitLine:{show:false}});
  yAxes.push({gridIndex:i, type:'log', logBase:10, min:0.1, max:1e6, interval:1, position:'left', z:0,
    axisLine:{show:false},
    axisTick:{show:true, inside:true, length:7, lineStyle:tickLine},
    minorTick:{show:false},
    axisLabel:{show:true, margin:8, color:'#000', fontFamily:FONT,
      formatter: v => '{b|10}{s|' + Math.round(Math.log10(v)) + '}',
      rich:{ b:{fontSize:20, fontFamily:FONT, color:'#000', verticalAlign:'bottom', lineHeight:22},
             s:{fontSize:13, fontFamily:FONT, color:'#000', verticalAlign:'bottom', lineHeight:13, padding:[0,0,11,1]} }},
    splitLine:{show:true, lineStyle:gridLine}});
  yAxes.push({gridIndex:i, type:'log', logBase:10, min:0.1, max:1e6, interval:1, position:'right', z:3,
    axisLine:{show:false}, axisLabel:{show:false},
    axisTick:{show:true, inside:true, length:7, lineStyle:tickLine},
    splitLine:{show:false}});

  panelData[i].forEach((arr, k) => {
    const isObs = k === 0;
    series.push({
      name: seriesNames[k], type:'line', xAxisIndex:i*2, yAxisIndex:i*2,
      data: arr.map(p => p[1] < 0.1 ? {value:p, symbol:'none'} : p),
      symbol: isObs ? 'circle' : 'none', symbolSize: 8, showSymbol: isObs,
      color: colors[k],
      lineStyle: {color: isObs ? '#3a3a3a' : colors[k], width: isObs ? 1 : 1.3},
      itemStyle: {color: isObs ? '#000' : colors[k]},
      clip: true, animation:false, silent:true,
      emphasis:{disabled:true},
      z: isObs ? 5 : 2 + k * 0.1
    });
  });

  legends.push({
    data: seriesNames.map((n, k) => k === 0 ? {name:n} : {name:n, itemStyle:{opacity:0}}),
    orient:'vertical', align:'right',
    right:L.legRight, top:L.legTop, itemWidth:54, itemHeight:10, itemGap:0,
    padding:[0, L.legPadR, 3, 6], backgroundColor:'#ffffff', z:1, selectedMode:false,
    textStyle:{fontSize:19, fontFamily:FONT, color:'#000', lineHeight:19.5, padding:[0,7,0,0]}
  });

  graphics.push({type:'text', x:L.titleX, y:L.titleY, z:10,
    style:{text:panelTitles[i], font:'34px ' + FONT, fill:'#000', textAlign:'center', textVerticalAlign:'middle'}});
  graphics.push({type:'text', x:L.ylabX, y:L.top + GH/2, rotation:Math.PI/2, z:10,
    style:{text:'{n|Cs-137 (Bq m}{s|-3}{n|)}', textAlign:'center', textVerticalAlign:'middle',
      rich:{n:{fontSize:19.5, fontFamily:FONT, fill:'#000', verticalAlign:'bottom', lineHeight:21},
            s:{fontSize:12, fontFamily:FONT, fill:'#000', verticalAlign:'bottom', lineHeight:12, padding:[0,0,10,0]}}}});
});

const chart = echarts.init(document.getElementById('c'), null, {renderer:'canvas'});
chart.setOption({
  backgroundColor:'#ffffff', animation:false,
  grid: grids, xAxis: xAxes, yAxis: yAxes, series: series, legend: legends, graphic: graphics
});
</script>
</body></html>
